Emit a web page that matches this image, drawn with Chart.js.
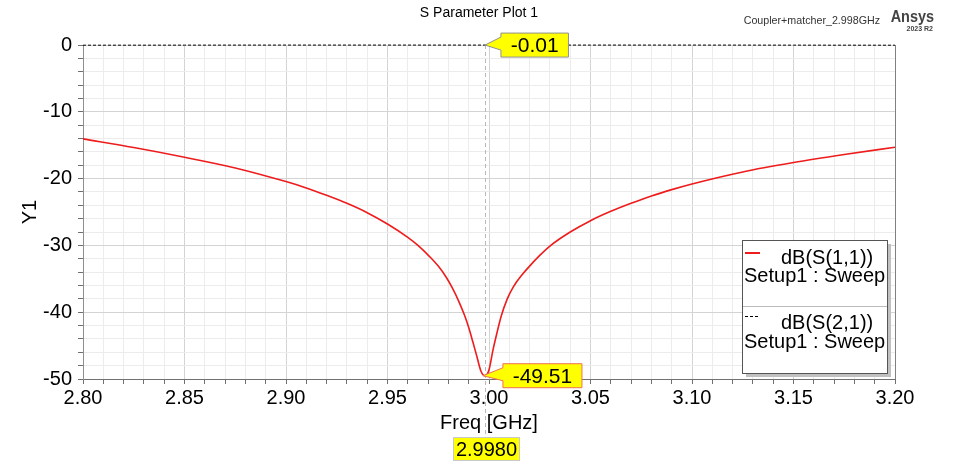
<!DOCTYPE html>
<html>
<head>
<meta charset="utf-8">
<script src="https://cdn.jsdelivr.net/npm/chart.js@4"></script>
<style>
  html, body { margin: 0; padding: 0; background: #fff; }
  #wrap { width: 964px; height: 461px; position: relative; }
</style>
</head>
<body>
<div id="wrap"><canvas id="chart-sparam" width="964" height="461"></canvas></div>
<script>
// S11 trace
const freqS11 = [2.80, 2.825, 2.85, 2.875, 2.90, 2.91, 2.92, 2.93, 2.94, 2.95, 2.96, 2.965, 2.9705, 2.975, 2.979,
  2.982, 2.985, 2.988, 2.990, 2.992, 2.994, 2.996, 2.998,
  3.000, 3.002, 3.004, 3.006, 3.009, 3.012, 3.016, 3.020, 3.025, 3.030, 3.040, 3.050, 3.060, 3.070, 3.080, 3.090, 3.100,
  3.125, 3.150, 3.175, 3.200];
const dbS11 = [-14.05, -15.35, -16.8, -18.4, -20.45, -21.4, -22.5, -23.7, -25.1, -26.8, -28.8, -30.0, -31.6, -33.1, -34.8,
  -36.4, -38.3, -40.5, -42.3, -44.4, -46.6, -48.8, -49.51,
  -48.6, -45.6, -43.0, -40.6, -38.0, -36.2, -34.5, -33.1, -31.5, -30.1, -28.0, -26.3, -24.9, -23.7, -22.6, -21.65, -20.8,
  -19.0, -17.6, -16.4, -15.3];

// S21 trace, sits right on 0 dB
const freqS21 = [2.80, 2.85, 2.90, 2.95, 2.998, 3.05, 3.10, 3.15, 3.20];
const dbS21 = [-0.03, -0.02, -0.01, -0.01, -0.01, -0.01, -0.01, -0.02, -0.03];

// marker m1
const markerFreq = 2.998;
const markerS21 = -0.01;
const markerS11 = -49.51;

const xMin = 2.80, xMax = 3.20, xStep = 0.01;
const yMin = -50, yMax = 0, yStep = 2;

const FONT = "'Liberation Sans', Arial, sans-serif";

function toPoints(xs, ys) {
  return xs.map((x, i) => ({ x: x, y: ys[i] }));
}

function isMajorX(v) { return Math.round(v * 100) % 5 === 0; }
function isMajorY(v) { return Math.round(v) % 10 === 0; }

function drawMarkerBox(ctx, tipX, tipY, text, border, gap) {
  const boxL = tipX + gap, boxW = text.length * 11.5 + 10, h = 24;
  ctx.save();
  ctx.beginPath();
  ctx.moveTo(tipX, tipY);
  ctx.lineTo(boxL, tipY - 8);
  ctx.lineTo(boxL, tipY - h / 2);
  ctx.lineTo(boxL + boxW, tipY - h / 2);
  ctx.lineTo(boxL + boxW, tipY + h / 2);
  ctx.lineTo(boxL, tipY + h / 2);
  ctx.lineTo(boxL, tipY + 5);
  ctx.closePath();
  ctx.fillStyle = "#ffff00";
  ctx.fill();
  ctx.strokeStyle = border;
  ctx.lineWidth = 1;
  ctx.stroke();
  ctx.fillStyle = "#000";
  ctx.font = "21px " + FONT;
  ctx.textAlign = "center";
  ctx.textBaseline = "middle";
  ctx.fillText(text, boxL + boxW / 2, tipY + 1);
  ctx.restore();
}

const decorPlugin = {
  id: "decor",
  beforeDatasetsDraw(chart) {
    const { ctx, chartArea: a, scales: { x } } = chart;
    const mx = Math.round(x.getPixelForValue(markerFreq)) + 0.5;
    ctx.save();
    ctx.strokeStyle = "#b8b8b8";
    ctx.setLineDash([4, 3]);
    ctx.lineWidth = 1;
    ctx.beginPath();
    ctx.moveTo(mx, a.top);
    ctx.lineTo(mx, 437);
    ctx.stroke();
    ctx.setLineDash([]);
    // right frame
    ctx.strokeStyle = "#808080";
    ctx.beginPath();
    ctx.moveTo(a.right + 0.5, a.top);
    ctx.lineTo(a.right + 0.5, a.bottom);
    ctx.stroke();
    ctx.restore();
  },
  afterDraw(chart) {
    const { ctx, chartArea: a, scales: { x, y } } = chart;
    ctx.save();

    // header
    ctx.fillStyle = "#000";
    ctx.textBaseline = "middle";
    ctx.textAlign = "center";
    ctx.font = "14px " + FONT;
    ctx.fillText("S Parameter Plot 1", 479, 13);
    ctx.textAlign = "right";
    ctx.font = "10.7px " + FONT;
    ctx.fillStyle = "#333";
    ctx.fillText("Coupler+matcher_2.998GHz", 880, 21);
    ctx.fillStyle = "#444";
    ctx.save();
    ctx.translate(934, 17);
    ctx.scale(0.85, 1);
    ctx.font = "bold 17px " + FONT;
    ctx.fillText("Ansys", 0, 0);
    ctx.restore();
    ctx.font = "bold 7px " + FONT;
    ctx.fillText("2023 R2", 933, 29);

    // axis titles
    ctx.fillStyle = "#000";
    ctx.font = "20px " + FONT;
    ctx.textAlign = "center";
    ctx.fillText("Freq [GHz]", (a.left + a.right) / 2, 423);
    ctx.save();
    ctx.translate(30, (a.top + a.bottom) / 2);
    ctx.rotate(-Math.PI / 2);
    ctx.fillText("Y1", 0, 0);
    ctx.restore();

    // markers
    const mx = x.getPixelForValue(markerFreq);
    drawMarkerBox(ctx, mx, y.getPixelForValue(markerS21), markerS21.toFixed(2), "#909090", 16);
    drawMarkerBox(ctx, mx - 2, y.getPixelForValue(markerS11), markerS11.toFixed(2), "#f07050", 20);

    // frequency readout
    ctx.fillStyle = "#ffff00";
    ctx.fillRect(453, 437, 67, 24);
    ctx.strokeStyle = "#c8c8c8";
    ctx.strokeRect(453.5, 437.5, 66, 23);
    ctx.fillStyle = "#000";
    ctx.font = "20px " + FONT;
    ctx.textAlign = "center";
    ctx.fillText(markerFreq.toFixed(4), 486.5, 450);

    // legend
    const lx = 742, ly = 240, lw = 145, lh = 133;
    ctx.fillStyle = "#c0c0c0";
    ctx.fillRect(lx + 4, ly + 4, lw, lh);
    ctx.fillStyle = "#fff";
    ctx.fillRect(lx, ly, lw, lh);
    ctx.strokeStyle = "#555";
    ctx.lineWidth = 1;
    ctx.strokeRect(lx + 0.5, ly + 0.5, lw, lh);
    ctx.strokeStyle = "#bbb";
    ctx.beginPath();
    ctx.moveTo(lx + 1, 306.5);
    ctx.lineTo(lx + lw, 306.5);
    ctx.stroke();

    ctx.fillStyle = "#ee1c1c";
    ctx.fillRect(745, 252, 15, 2);
    ctx.fillStyle = "#000";
    [745, 750, 755].forEach((dx) => ctx.fillRect(dx, 316, 3, 1));

    ctx.font = "20px " + FONT;
    ctx.textAlign = "left";
    ctx.fillText("dB(S(1,1))", 781, 258);
    ctx.fillText("Setup1 : Sweep", 744, 276);
    ctx.fillText("dB(S(2,1))", 781, 323);
    ctx.fillText("Setup1 : Sweep", 744, 342);

    ctx.restore();
  }
};

new Chart(document.getElementById("chart-sparam"), {
  type: "line",
  data: {
    datasets: [{
      label: "dB(S(1,1))",
      data: toPoints(freqS11, dbS11),
      borderColor: "#ee1c1c",
      borderWidth: 1.6,
      pointRadius: 0,
      cubicInterpolationMode: "monotone",
      fill: false,
    }, {
      label: "dB(S(2,1))",
      data: toPoints(freqS21, dbS21),
      borderColor: "#000",
      borderWidth: 1,
      borderDash: [3, 2],
      pointRadius: 0,
      fill: false,
      clip: 4,
    }],
  },
  options: {
    responsive: false,
    animation: false,
    layout: { padding: { left: 0, top: 45, right: 69, bottom: 0 } },
    plugins: {
      legend: { display: false },
      tooltip: { enabled: false },
    },
    scales: {
      x: {
        type: "linear",
        min: xMin,
        max: xMax,
        afterFit: (s) => { s.height = 82; },
        border: { color: "#707070", width: 1 },
        grid: {
          color: (c) => (c.tick && isMajorX(c.tick.value) ? "#d4d4d4" : "#ececec"),
          tickColor: "#707070",
          tickLength: 5,
        },
        ticks: {
          stepSize: xStep,
          autoSkip: false,
          maxRotation: 0,
          padding: 2,
          color: "#000",
          font: { family: FONT, size: 20 },
          callback: (v) => (isMajorX(v) ? v.toFixed(2) : ""),
        },
      },
      y: {
        type: "linear",
        min: yMin,
        max: yMax,
        afterFit: (s) => { s.width = 83; },
        border: { color: "#909090", width: 1 },
        grid: {
          color: (c) => (c.tick && isMajorY(c.tick.value) ? "#d4d4d4" : "#ececec"),
          tickColor: "#707070",
          tickLength: 5,
        },
        ticks: {
          stepSize: yStep,
          autoSkip: false,
          padding: 6,
          color: "#000",
          font: { family: FONT, size: 20 },
          callback: (v) => (isMajorY(v) ? String(v) : ""),
        },
      },
    },
  },
  plugins: [decorPlugin],
});
</script>
</body>
</html>
